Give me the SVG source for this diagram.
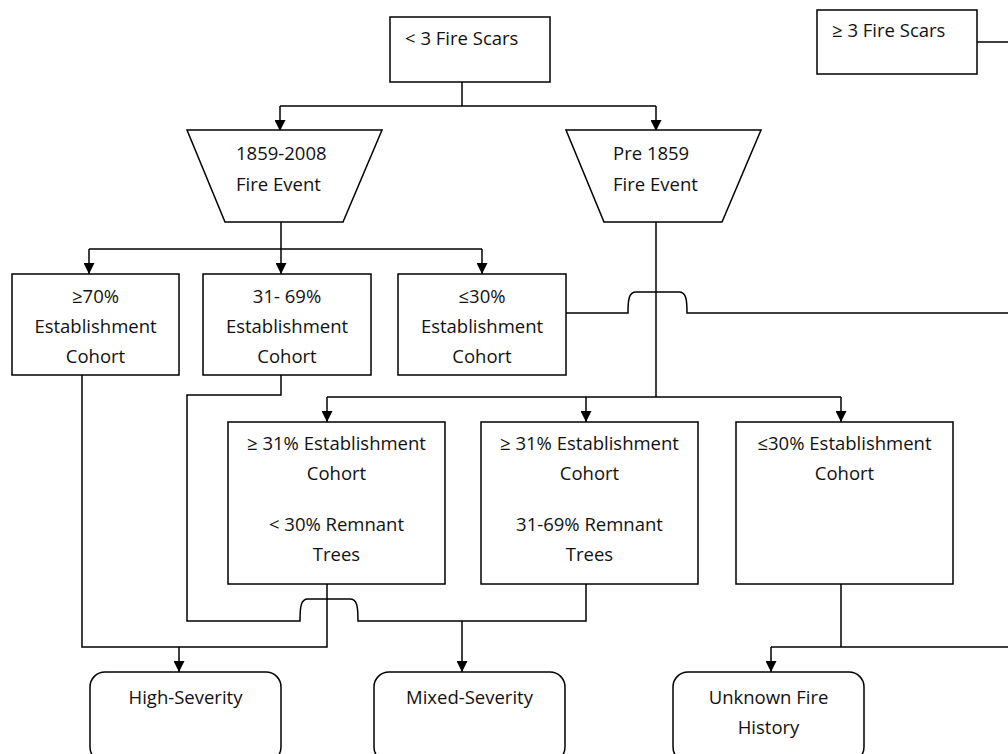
<svg xmlns="http://www.w3.org/2000/svg" width="1008" height="754" viewBox="0 0 1008 754">
<defs>
<style>
.box{fill:#fff;stroke:#000;stroke-width:1.5}
.ln{fill:none;stroke:#000;stroke-width:1.5}
.t{font-family:"Open Sans","Liberation Sans",sans-serif;font-size:18.5px;fill:#111}
.c{text-anchor:middle}
</style>
<marker id="ah" markerUnits="userSpaceOnUse" markerWidth="11" markerHeight="11" viewBox="0 0 10 10" refX="10" refY="5" orient="auto">
<path d="M0,0 L10,5 L0,10 z" fill="#000"/>
</marker>
</defs>
<rect width="1008" height="754" fill="#fff"/>
<g id="connectors">
<path class="ln" d="M462,82 V106"/>
<path class="ln" d="M280,106 H656"/>
<path class="ln" d="M280,106 V131" marker-end="url(#ah)"/>
<path class="ln" d="M656,106 V131" marker-end="url(#ah)"/>
<path class="ln" d="M977,42 H1008"/>
<path class="ln" d="M281,222 V249"/>
<path class="ln" d="M89,249 H482"/>
<path class="ln" d="M89,249 V274" marker-end="url(#ah)"/>
<path class="ln" d="M281,249 V274" marker-end="url(#ah)"/>
<path class="ln" d="M482,249 V274" marker-end="url(#ah)"/>
<path class="ln" d="M656,222 V397"/>
<path class="ln" d="M327,397 H841"/>
<path class="ln" d="M327,397 V422" marker-end="url(#ah)"/>
<path class="ln" d="M586,397 V422" marker-end="url(#ah)"/>
<path class="ln" d="M841,397 V422" marker-end="url(#ah)"/>
<path class="ln" d="M566,313 H628 C628,299 629,292 636,292 H679 C686,292 687,299 687,313 H1008"/>
<path class="ln" d="M82,375 V647 H327 V584"/>
<path class="ln" d="M179,647 V672" marker-end="url(#ah)"/>
<path class="ln" d="M281,375 V395 H187 V621 H300 C300,606 301,599 308,599 H350 C357,599 358,606 358,621 H586 V584"/>
<path class="ln" d="M462,621 V672" marker-end="url(#ah)"/>
<path class="ln" d="M841,584 V647"/>
<path class="ln" d="M771,647 H1008"/>
<path class="ln" d="M771,647 V672" marker-end="url(#ah)"/>
</g>
<g id="lt3">
<rect class="box" x="390" y="17" width="160" height="65"/>
<text class="t" x="405" y="45">&lt; 3 Fire Scars</text>
</g>
<g id="ge3">
<rect class="box" x="817" y="10" width="160" height="64"/>
<text class="t" x="832" y="37">≥ 3 Fire Scars</text>
</g>
<g id="recent">
<polygon class="box" points="187,130 382,130 343,222 225,222"/>
<text class="t" x="236" y="160">1859-2008</text>
<text class="t" x="236" y="191">Fire Event</text>
</g>
<g id="pre">
<polygon class="box" points="566,130 761,130 722,222 604,222"/>
<text class="t" x="613" y="160">Pre 1859</text>
<text class="t" x="613" y="191">Fire Event</text>
</g>
<g id="e70">
<rect class="box" x="12" y="274" width="167" height="101"/>
<text class="t c" x="95.5" y="303">≥70%</text>
<text class="t c" x="95.5" y="333">Establishment</text>
<text class="t c" x="95.5" y="363">Cohort</text>
</g>
<g id="e3169">
<rect class="box" x="203" y="274" width="168" height="101"/>
<text class="t c" x="287" y="303">31- 69%</text>
<text class="t c" x="287" y="333">Establishment</text>
<text class="t c" x="287" y="363">Cohort</text>
</g>
<g id="e30">
<rect class="box" x="398" y="274" width="168" height="101"/>
<text class="t c" x="482" y="303">≤30%</text>
<text class="t c" x="482" y="333">Establishment</text>
<text class="t c" x="482" y="363">Cohort</text>
</g>
<g id="p31a">
<rect class="box" x="228" y="422" width="217" height="162"/>
<text class="t c" x="336.5" y="450">≥ 31% Establishment</text>
<text class="t c" x="336.5" y="480">Cohort</text>
<text class="t c" x="336.5" y="531">&lt; 30% Remnant</text>
<text class="t c" x="336.5" y="561">Trees</text>
</g>
<g id="p31b">
<rect class="box" x="481" y="422" width="217" height="162"/>
<text class="t c" x="589.5" y="450">≥ 31% Establishment</text>
<text class="t c" x="589.5" y="480">Cohort</text>
<text class="t c" x="589.5" y="531">31-69% Remnant</text>
<text class="t c" x="589.5" y="561">Trees</text>
</g>
<g id="p30">
<rect class="box" x="736" y="422" width="217" height="162"/>
<text class="t c" x="844.5" y="450">≤30% Establishment</text>
<text class="t c" x="844.5" y="480">Cohort</text>
</g>
<g id="high">
<rect class="box" x="90" y="672" width="191" height="90" rx="15" ry="15"/>
<text class="t c" x="185.5" y="704">High-Severity</text>
</g>
<g id="mixed">
<rect class="box" x="374" y="672" width="191" height="90" rx="15" ry="15"/>
<text class="t c" x="469.5" y="704">Mixed-Severity</text>
</g>
<g id="unknown">
<rect class="box" x="673" y="672" width="191" height="90" rx="15" ry="15"/>
<text class="t c" x="768.5" y="704">Unknown Fire</text>
<text class="t c" x="768.5" y="734">History</text>
</g>
</svg>
